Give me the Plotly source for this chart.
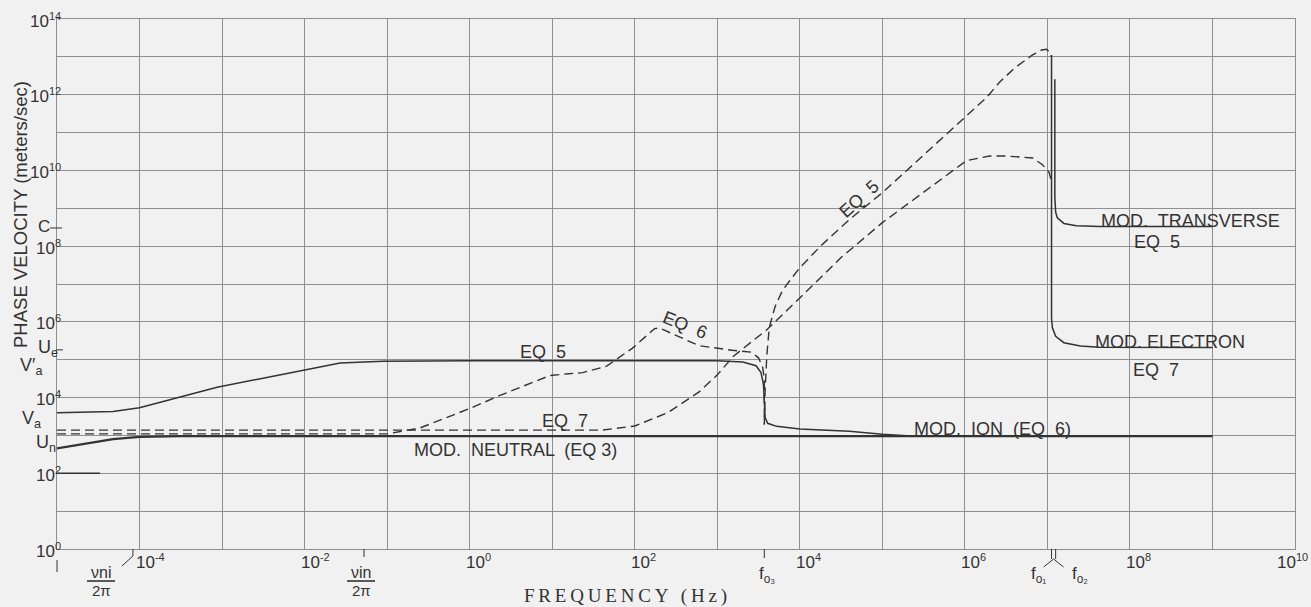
import numpy as np
import plotly.graph_objects as go

# ---- values (log10 of frequency in Hz, log10 of velocity in m/s) ----
eq5_solid_logf = [-5, -4.32, -4.0, -3.47, -3.06, -2.58, -2.02, -1.57, -1.05, 0.0, 3.0, 3.15, 3.31, 3.47,
                  3.53, 3.56, 3.57, 3.58, 3.61, 3.72, 4.0, 4.39, 4.6, 5.0, 5.3, 5.6, 9.0]
eq5_solid_logv = [3.6, 3.63, 3.73, 4.03, 4.27, 4.48, 4.72, 4.91, 4.96, 4.97, 4.97, 4.96, 4.94, 4.84,
                  4.66, 4.34, 4.0, 3.47, 3.32, 3.24, 3.17, 3.13, 3.11, 3.03, 2.99, 2.98, 2.98]

neutral_logf = [-5, -4.7, -4.32, -4.0, -3.5, 9.0]
neutral_logv = [2.66, 2.76, 2.9, 2.96, 2.98, 2.98]

eq6_dash_logf = [-5, -1.0, -0.6, 0.0, 0.36, 0.97, 1.2, 1.37, 1.66, 1.97, 2.24, 2.3, 2.38, 2.78,
                 3.18, 3.41, 3.5, 3.55, 3.57, 3.57]
eq6_dash_logv = [3.04, 3.04, 3.2, 3.71, 4.05, 4.58, 4.63, 4.66, 4.83, 5.3, 5.82, 5.84, 5.76, 5.37,
                 5.25, 5.2, 5.05, 4.8, 4.5, 3.29]

eq7_dash_logf = [-5, 1.6, 2.0, 2.4, 2.78, 3.0, 3.2, 3.6, 4.0, 4.5, 5.0, 5.69, 6.02, 6.3, 6.5,
                 6.82, 6.94, 7.02, 7.05]
eq7_dash_logv = [3.14, 3.14, 3.25, 3.6, 4.15, 4.6, 5.1, 5.79, 6.63, 7.7, 8.62, 9.73, 10.26, 10.38,
                 10.38, 10.33, 10.15, 9.95, 9.7]

eq5_dash_logf = [3.57, 3.58, 3.60, 3.63, 3.70, 3.79, 3.9, 4.0, 4.27, 4.6, 5.0, 5.5, 6.0, 6.26, 6.42,
                 6.6, 6.82, 6.93, 6.99, 7.03, 7.05]
eq5_dash_logv = [3.29, 4.2, 5.1, 5.85, 6.4, 6.83, 7.15, 7.43, 8.04, 8.7, 9.41, 10.4, 11.4, 11.92, 12.33,
                 12.7, 13.05, 13.18, 13.2, 13.12, 13.0]

transverse_logf = [7.09, 7.09, 7.1, 7.12, 7.2, 7.35, 7.63, 9.0]
transverse_logv = [12.41, 9.3, 8.9, 8.75, 8.6, 8.54, 8.52, 8.52]

electron_logf = [7.05, 7.05, 7.06, 7.1, 7.2, 7.4, 7.63, 9.0]
electron_logv = [13.05, 6.1, 5.85, 5.62, 5.45, 5.36, 5.33, 5.32]

x_tick_exp = list(range(-5, 11))
y_tick_exp = list(range(0, 15))
x_label_exp = [-4, -2, 0, 2, 4, 6, 8, 10]
y_label_exp = [0, 2, 4, 6, 8, 10, 12, 14]

# special frequencies (log10 Hz) and velocities (log10 m/s)
special_f = {"nu_ni": -4.08, "nu_in": -1.28, "fo3": 3.57, "fo1": 7.05, "fo2": 7.10}
special_v = {"C": 8.48, "Ue": 5.26, "Va_p": 4.97, "Va": 3.6, "Un": 2.98}

# ---- figure ----
W, H = 1311, 607
L, R, T, B = 57, 16, 19, 58
PW, PH = W - L - R, H - T - B
INK = "#333333"
GRID = "#8f8f8f"
BG = "#f1f1f1"
FONT = "Liberation Sans, Arial, sans-serif"


def pxx(x):
    return (x - L) / PW


def pxy(y):
    return (H - B - y) / PH


def fx(lf):
    return (lf + 5) / 15.0


def fy(lv):
    return lv / 14.0


def to_val(a):
    return 10 ** np.array(a, dtype=float)


fig = go.Figure()


def add_line(lf, lv, dash="solid", width=1.4):
    fig.add_trace(go.Scatter(x=to_val(lf), y=to_val(lv), mode="lines",
                             line=dict(color=INK, width=width, dash=dash),
                             hoverinfo="skip", showlegend=False))


add_line(neutral_logf, neutral_logv, width=2.2)
add_line(eq5_solid_logf, eq5_solid_logv, width=1.5)
add_line(eq6_dash_logf, eq6_dash_logv, dash="9px,5px")
add_line(eq7_dash_logf, eq7_dash_logv, dash="9px,5px")
add_line(eq5_dash_logf, eq5_dash_logv, dash="9px,5px")
add_line(electron_logf, electron_logv, width=1.5)
add_line(transverse_logf, transverse_logv, width=1.5)

fig.update_layout(
    width=W, height=H,
    margin=dict(l=L, r=R, t=T, b=B),
    paper_bgcolor=BG, plot_bgcolor=BG,
    font=dict(family=FONT, color=INK, size=15),
    xaxis=dict(type="log", range=[-5, 10], tickmode="array",
               tickvals=[10.0 ** k for k in x_tick_exp], showticklabels=False,
               showgrid=True, gridcolor=GRID, gridwidth=1, ticks="",
               showline=True, mirror=True, linecolor=GRID, linewidth=1, zeroline=False),
    yaxis=dict(type="log", range=[0, 14], tickmode="array",
               tickvals=[10.0 ** k for k in y_tick_exp], showticklabels=False,
               showgrid=True, gridcolor=GRID, gridwidth=1, ticks="",
               showline=True, mirror=True, linecolor=GRID, linewidth=1, zeroline=False),
)

ann = []


def txt(text, x, y, size=18, angle=0, family=FONT, xanchor="center"):
    ann.append(dict(text=text, x=pxx(x), y=pxy(y),
                    xref="paper", yref="paper",
                    showarrow=False, textangle=angle, xanchor=xanchor, yanchor="middle",
                    font=dict(size=size, family=family, color=INK)))


def pow_label(k):
    return f"10<sup><span style='font-size:11px'>{k}</span></sup>"


# tick labels
for k in x_label_exp:
    last = (k == x_label_exp[-1])
    ann.append(dict(text=pow_label(k), x=1.0 + (16 / PW) if last else fx(k), y=pxy(561),
                    xref="paper", yref="paper",
                    xshift=-1 if last else -6, showarrow=False,
                    xanchor="right" if last else "left", yanchor="middle",
                    font=dict(size=17, family=FONT, color=INK)))
for k in y_label_exp:
    ann.append(dict(text=pow_label(k), x=pxx(63), y=fy(k), xref="paper", yref="paper",
                    yshift=-1, showarrow=False, xanchor="right", yanchor="middle",
                    font=dict(size=17, family=FONT, color=INK)))

# axis titles
txt("\u2009".join("FREQUENCY") + "\u2009 \u2009(\u2009H\u2009z\u2009)", 625, 596, size=19,
    family="Liberation Serif, DejaVu Serif, serif")
txt("PHASE VELOCITY (meters/sec)", 20, 215, size=18.5, angle=-90)

# in-plot labels
txt("EQ  5", 543, 352)
txt("EQ  7", 565, 421)
txt("MOD.  NEUTRAL  (EQ 3)", 515, 450)
txt("EQ  6", 685, 325, angle=22)
txt("EQ  5", 859, 199, angle=-42)
txt("MOD.  ION  (EQ  6)", 992, 429)
txt("MOD.  TRANSVERSE", 1190, 221)
txt("EQ  5", 1157, 242)
txt("MOD. ELECTRON", 1170, 342)
txt("EQ  7", 1156, 370)

# y-side special labels
txt("C", 44, 226, size=17)
txt("U<sub>e</sub>", 48, 348, size=18)
txt("V\u2032<sub>a</sub>", 31, 366, size=18)
txt("V<sub>a</sub>", 31, 420, size=18)
txt("U<sub>n</sub>", 46, 444, size=18)

# x-side special labels
txt("\u03bdni", 101, 572, size=16)
txt("2\u03c0", 101, 590, size=15)
txt("\u03bdin", 361, 572, size=16)
txt("2\u03c0", 361, 590, size=15)
txt("f<sub>o\u2083</sub>", 767, 575, size=17)
txt("f<sub>o\u2081</sub>", 1038, 575, size=17)
txt("f<sub>o\u2082</sub>", 1080, 575, size=17)

fig.update_layout(annotations=ann)

shapes = []


def seg(x0, y0, x1, y1, w=1.0, color=INK):
    shapes.append(dict(type="line", xref="paper", yref="paper",
                       x0=pxx(x0), y0=pxy(y0), x1=pxx(x1), y1=pxy(y1),
                       line=dict(color=color, width=w)))


def seg_f(lf, y0, y1):
    shapes.append(dict(type="line", xref="paper", yref="paper",
                       x0=fx(lf), y0=pxy(y0), x1=fx(lf), y1=pxy(y1),
                       line=dict(color=INK, width=1)))


# fraction bars
seg(87, 581, 115, 581, w=1.6)
seg(347, 581, 375, 581, w=1.6)
# ticks below axis
seg(57, 560, 57, 572)
seg_f(special_f["nu_ni"], 549, 556)
nu_ni_px = L + fx(special_f["nu_ni"]) * PW
seg(nu_ni_px, 556, nu_ni_px - 11, 566)
seg_f(special_f["nu_in"], 549, 557)
seg_f(special_f["fo3"], 549, 558)
seg_f(special_f["fo1"], 549, 559)
seg_f(special_f["fo2"], 549, 559)
fo_mid = L + (fx(special_f["fo1"]) + fx(special_f["fo2"])) / 2 * PW
seg(fo_mid, 559, fo_mid - 10, 567)
seg(fo_mid, 559, fo_mid + 10, 567)
# y-side ticks
c_py = H - B - special_v["C"] / 14 * PH
seg(50, c_py, 62, c_py)
ue_py = H - B - special_v["Ue"] / 14 * PH
seg(56, ue_py, 63, ue_py)
# dark stub on 10^2 line
seg(57, H - B - 2 / 14 * PH, 100, H - B - 2 / 14 * PH, w=1.6)

fig.update_layout(shapes=shapes)

fig.write_html("out.html")
